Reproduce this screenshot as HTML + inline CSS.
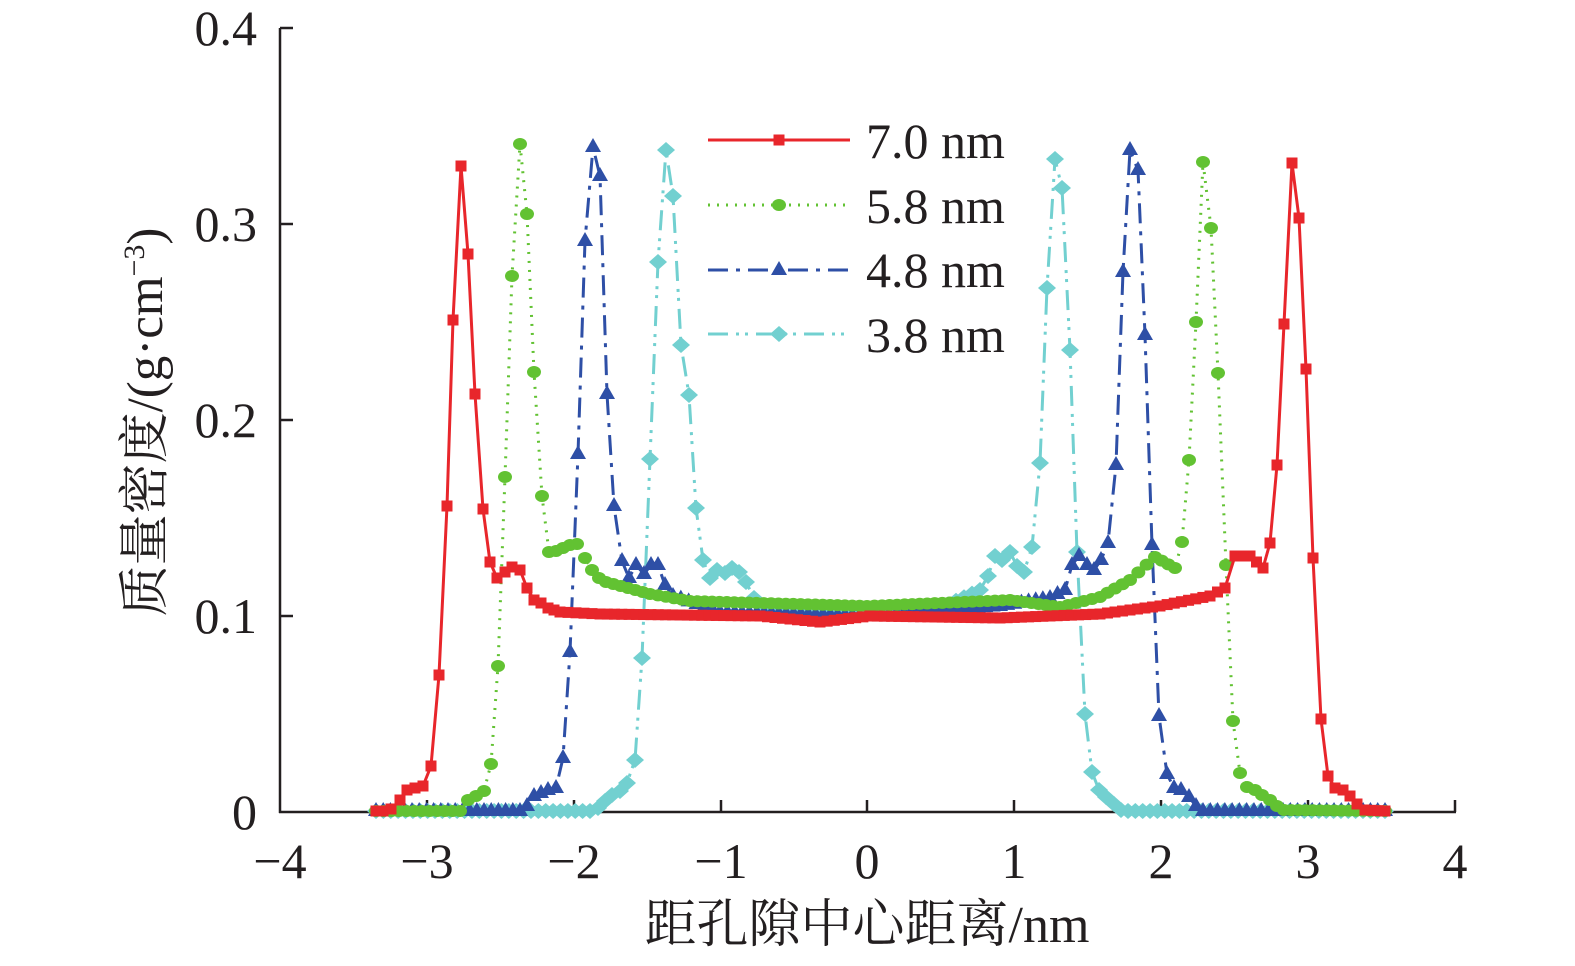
<!DOCTYPE html>
<html><head><meta charset="utf-8"><style>
body{margin:0;background:#fff;}
svg text{font-family:"Liberation Serif","Noto Serif CJK SC",serif;fill:#231f20;}
</style></head><body>
<svg id="s" width="1575" height="961" xmlns="http://www.w3.org/2000/svg">
<g stroke="#231f20" stroke-width="2.5" fill="none">
<line x1="280" y1="28" x2="280" y2="813"/>
<line x1="279" y1="812" x2="1456" y2="812"/>
<line x1="280" y1="28" x2="293" y2="28"/>
<line x1="280" y1="224" x2="293" y2="224"/>
<line x1="280" y1="420" x2="293" y2="420"/>
<line x1="280" y1="616" x2="293" y2="616"/>
<line x1="427" y1="812" x2="427" y2="800"/>
<line x1="574" y1="812" x2="574" y2="800"/>
<line x1="721" y1="812" x2="721" y2="800"/>
<line x1="867" y1="812" x2="867" y2="800"/>
<line x1="1014" y1="812" x2="1014" y2="800"/>
<line x1="1161" y1="812" x2="1161" y2="800"/>
<line x1="1308" y1="812" x2="1308" y2="800"/>
<line x1="1455" y1="812" x2="1455" y2="800"/>
</g>
<g font-size="50" text-anchor="end">
<text x="257" y="45">0.4</text><text x="257" y="241">0.3</text><text x="257" y="437">0.2</text><text x="257" y="633">0.1</text><text x="257" y="829">0</text>
</g>
<g font-size="50" text-anchor="middle">
<text x="280" y="878">−4</text><text x="427" y="878">−3</text><text x="574" y="878">−2</text><text x="721" y="878">−1</text><text x="867" y="878">0</text><text x="1014" y="878">1</text><text x="1161" y="878">2</text><text x="1308" y="878">3</text><text x="1455" y="878">4</text>
</g>
<text x="867" y="942" font-size="52" text-anchor="middle">距孔隙中心距离/nm</text>
<text transform="translate(162,422) rotate(-90)" font-size="51" text-anchor="middle">质量密度/(g·cm<tspan dy="-18" font-size="30">−3</tspan><tspan dy="18">)</tspan></text>
<g id="plot"></g>
<g id="leg" font-size="50">
<text x="866" y="158">7.0 nm</text><text x="866" y="223">5.8 nm</text><text x="866" y="287">4.8 nm</text><text x="866" y="352">3.8 nm</text>
</g>
</svg>
<script>
const S=[
{c:"#e8262b",d:"none",m:"sq",k:[[376,811],[383,811],[391,809],[400,800],[407,790],[415,788],[423,786],[431,766],[439,675],[447,506],[453,320],[461,166],[468,254],[475,394],[483,509],[490,562],[497,578],[505,572],[512,567],[520,570],[527,588],[534,600],[541,603],[548,608],[560,612],[600,614],[760,616],[820,622],[870,616],[1000,618],[1100,614],[1160,606],[1210,596],[1225,588],[1235,556],[1250,556],[1263,568],[1270,543],[1277,465],[1284,324],[1292,163],[1299,218],[1306,369],[1313,558],[1321,719],[1328,776],[1335,788],[1343,790],[1350,796],[1357,804],[1365,810],[1385,811]]},
{c:"#62c232",d:"2 7",m:"ci",k:[[376,811],[460,811],[468,800],[476,796],[484,791],[491,764],[498,666],[505,477],[512,276],[520,144],[527,214],[534,372],[542,496],[549,552],[556,551],[563,548],[570,545],[577,544],[585,558],[592,570],[599,578],[606,582],[650,594],[690,601],[867,606],[1010,600],[1060,607],[1100,597],[1130,580],[1155,557],[1175,568],[1182,542],[1189,460],[1196,322],[1203,162],[1211,228],[1218,373],[1226,565],[1233,721],[1240,773],[1247,787],[1255,790],[1262,795],[1270,800],[1277,806],[1284,810],[1385,811]]},
{c:"#2e4fa6",d:"20 8 4 8",m:"tr",k:[[376,811],[520,811],[527,806],[534,796],[541,793],[548,790],[556,788],[563,758],[570,652],[578,454],[585,241],[593,147],[600,176],[607,394],[614,506],[622,561],[629,578],[636,565],[644,574],[651,565],[658,565],[665,585],[673,596],[720,612],[867,616],[1000,606],[1050,598],[1065,590],[1072,565],[1079,556],[1087,565],[1094,570],[1101,560],[1108,543],[1116,465],[1123,272],[1130,150],[1138,170],[1145,335],[1152,545],[1159,716],[1167,774],[1174,788],[1181,790],[1189,797],[1196,806],[1203,811],[1385,811]]},
{c:"#72d0d0",d:"20 8 3 6 3 8",m:"di",k:[[376,811],[590,811],[598,808],[605,801],[612,795],[620,791],[627,783],[635,760],[642,658],[650,459],[658,262],[666,150],[673,196],[681,345],[689,395],[696,508],[703,560],[710,578],[717,570],[725,573],[732,568],[739,572],[746,582],[754,598],[761,605],[800,612],[867,614],[940,608],[980,590],[988,576],[995,556],[1002,560],[1010,552],[1017,566],[1024,572],[1032,547],[1040,463],[1047,288],[1055,159],[1062,188],[1070,350],[1077,552],[1085,714],[1092,772],[1099,790],[1106,797],[1114,804],[1121,810],[1128,811],[1385,811]]}
];
const NS="http://www.w3.org/2000/svg",P=document.getElementById("plot");
function el(t,a){const e=document.createElementNS(NS,t);for(const k in a)e.setAttribute(k,a[k]);return e;}
function mk(g,m,x,y,c){
 if(m=="sq")g.appendChild(el("rect",{x:x-5.5,y:y-5.5,width:11,height:11,fill:c}));
 else if(m=="ci")g.appendChild(el("ellipse",{cx:x,cy:y,rx:7,ry:6,fill:c}));
 else if(m=="tr")g.appendChild(el("polygon",{points:`${x},${y-9} ${x+8},${y+5} ${x-8},${y+5}`,fill:c}));
 else g.appendChild(el("polygon",{points:`${x},${y-8} ${x+9},${y} ${x},${y+8} ${x-9},${y}`,fill:c}));
}
const ly=[140,205,270,334];
[3,2,1,0].forEach(i=>{const s=S[i];let pts=[];const k=s.k;
 for(let j=0;j<k.length-1;j++){const [x0,y0]=k[j],[x1,y1]=k[j+1];pts.push([x0,y0]);
  const n=Math.round((x1-x0)/7.34);for(let t=1;t<n;t++){pts.push([x0+(x1-x0)*t/n,y0+(y1-y0)*t/n]);}}
 pts.push(k[k.length-1]);
 const g=el("g",{});
 g.appendChild(el("polyline",{points:pts.map(p=>p.join(",")).join(" "),fill:"none",stroke:s.c,"stroke-width":3,"stroke-dasharray":s.d}));
 pts.forEach(p=>mk(g,s.m,p[0],p[1],s.c));P.appendChild(g);
 const L=document.getElementById("leg");
 L.appendChild(el("line",{x1:708,y1:ly[i],x2:850,y2:ly[i],stroke:s.c,"stroke-width":3,"stroke-dasharray":s.d}));
 mk(L,s.m,779,ly[i],s.c);
});
</script>
</body></html>
